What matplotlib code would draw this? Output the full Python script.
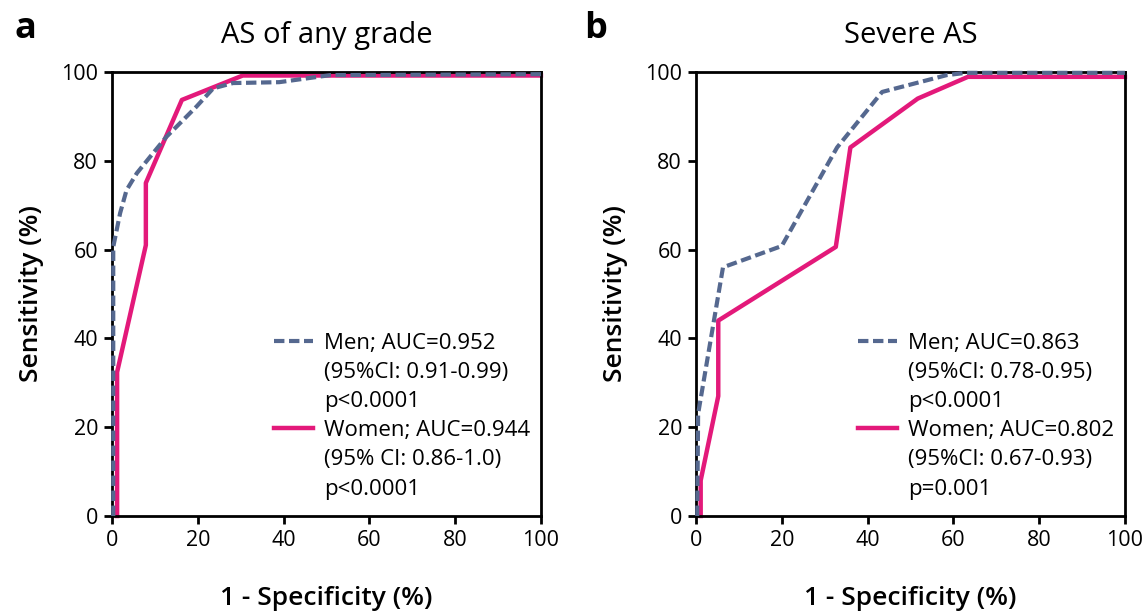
import matplotlib
matplotlib.use("Agg")
import matplotlib.pyplot as plt
from matplotlib.lines import Line2D

plt.rcParams['font.family'] = ['Open Sans', 'DejaVu Sans']

# Panel a: AS of any grade
a_men_x = [0.3, 0.3, 1.9, 3.4, 5.8, 8.9, 12.7, 15.9, 19.7, 23.6, 28.2, 39, 51, 100]
a_men_y = [0, 60.6, 68.2, 73.4, 77.2, 80.9, 85.4, 88.5, 92.2, 96.3, 97.5, 97.7, 99.3, 99.5]
a_women_x = [1.2, 1.2, 7.9, 7.9, 16.3, 30.5, 100]
a_women_y = [0, 32.4, 61, 75, 93.7, 99.2, 99.2]

# Panel b: Severe AS
b_men_x = [0.3, 0.5, 6.3, 20, 32.9, 43.4, 58.5, 63, 100]
b_men_y = [0, 23, 56, 60.8, 83, 95.5, 99.3, 99.8, 99.8]
b_women_x = [1.1, 1.1, 5.2, 5.2, 32.6, 36, 51.7, 63.4, 100]
b_women_y = [0, 8, 27, 44, 60.6, 83, 94, 98.9, 98.9]

a_labels_men = ["Men; AUC=0.952", "(95%CI: 0.91-0.99)", "p<0.0001"]
a_labels_women = ["Women; AUC=0.944", "(95% CI: 0.86-1.0)", "p<0.0001"]
b_labels_men = ["Men; AUC=0.863", "(95%CI: 0.78-0.95)", "p<0.0001"]
b_labels_women = ["Women; AUC=0.802", "(95%CI: 0.67-0.93)", "p=0.001"]

titles = ["AS of any grade", "Severe AS"]
panel_letters = ["a", "b"]
ticks = [0, 20, 40, 60, 80, 100]

MEN_C = "#55688f"
WOMEN_C = "#e3197a"

fig = plt.figure(figsize=(11.46, 6.15), dpi=100)
axes = [fig.add_axes([0.0977, 0.161, 0.3743, 0.722]),
        fig.add_axes([0.6073, 0.161, 0.3743, 0.722])]

data = [(a_men_x, a_men_y, a_women_x, a_women_y, a_labels_men, a_labels_women),
        (b_men_x, b_men_y, b_women_x, b_women_y, b_labels_men, b_labels_women)]

for i, ax in enumerate(axes):
    mx, my, wx, wy, lm, lw = data[i]
    ax.plot(mx, my, color=MEN_C, lw=3.0, dashes=(2.5, 1.1), zorder=3, clip_on=False)
    ax.plot(wx, wy, color=WOMEN_C, lw=3.2, zorder=2, clip_on=False)
    ax.set_xlim(0, 100)
    ax.set_ylim(0, 100)
    ax.set_xticks(ticks)
    ax.set_yticks(ticks)
    ax.tick_params(direction='out', length=6, width=2, labelsize=15.5, pad=4)
    for s in ax.spines.values():
        s.set_linewidth(2)
    ax.set_xlabel("1 - Specificity (%)", fontsize=19, fontweight='semibold', labelpad=25)
    ax.set_ylabel("Sensitivity (%)", fontsize=19, fontweight='semibold', labelpad=12)
    ax.set_title(titles[i], fontsize=21, pad=21)

    blank = Line2D([], [], color='none')
    handles = [Line2D([], [], color=MEN_C, lw=3.0, dashes=(2.5, 1.1)), blank, blank,
               Line2D([], [], color=WOMEN_C, lw=3.2), blank, blank]
    labels = lm + lw
    ax.legend(handles, labels, loc='upper left', bbox_to_anchor=(0.378, 0.413),
              frameon=False, fontsize=16, handlelength=1.75, handletextpad=0.5,
              labelspacing=0.37, borderpad=0.0, borderaxespad=0.0)

fig.text(0.013, 0.953, panel_letters[0], fontsize=26, fontweight='bold', va='center')
fig.text(0.510, 0.953, panel_letters[1], fontsize=26, fontweight='bold', va='center')

fig.savefig("out.png", dpi=100)
